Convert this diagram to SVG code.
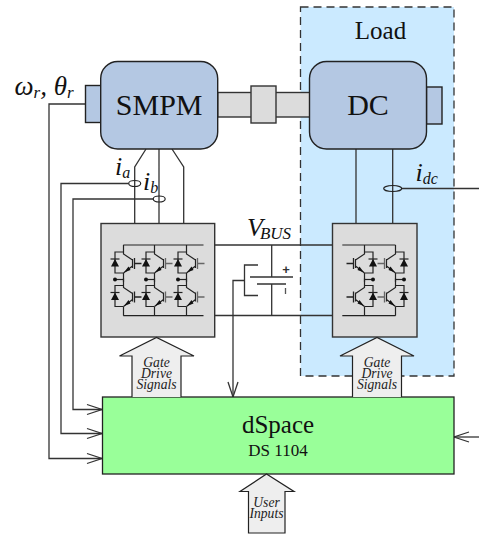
<svg xmlns="http://www.w3.org/2000/svg" xmlns:xlink="http://www.w3.org/1999/xlink" width="479" height="534" viewBox="0 0 479 534">
<style>
text{font-family:"Liberation Serif","Times New Roman",serif;fill:#111}
.i{font-style:italic}
.m{text-anchor:middle}
.sig{font-size:13.6px;font-style:italic;text-anchor:middle;fill:#222}
.w{fill:none;stroke:#333;stroke-width:1.3}
.a{fill:none;stroke:#333;stroke-width:1.3;marker-end:url(#open)}
.body{fill:#b4c8e3;stroke:#222;stroke-width:1.4}
.gray{fill:#dcdcdc;stroke:#333;stroke-width:1.4}
.big{fill:#eee;stroke:#222;stroke-width:1.2}
.s{fill:none;stroke:#222;stroke-width:1.2}
.f{fill:#111;stroke:none}
</style>
<defs>
<marker id="open" markerUnits="userSpaceOnUse" markerWidth="18" markerHeight="14" refX="15" refY="6" orient="auto" overflow="visible">
<path d="M0,1 L15,6 L0,11" fill="none" stroke="#333" stroke-width="1.3"/>
</marker>
<g id="cell">
<path class="s" d="M0,7 H-8.5 V28 H0"/>
<path class="f" d="M-8.5,14 L-12.5,21.5 H-4.5 Z"/>
<path class="s" d="M-13,14 H-4"/>
<path class="s" d="M0,0 V9 L9,15 M9,14 V23 M9,21 L0,28"/>
<path class="f" d="M0.5,27.5 L5,21.5 L7,25 Z"/>
<path d="M11,13 V24 M11,18.5 H18" fill="none" stroke="currentColor" stroke-width="1.3"/>
</g>
<g id="leg">
<use href="#cell" xlink:href="#cell"/>
<path class="s" d="M0,28 V37"/>
<use href="#cell" xlink:href="#cell" y="33.5"/>
<path class="s" d="M0,61.5 V70.7"/>
<path class="s" d="M-8.5,34.5 H0"/>
<circle class="f" cx="-8.5" cy="34.5" r="2"/>
</g>
</defs>

<g id="load">
<rect x="300.5" y="7" width="153.5" height="369" fill="#cbeaff" stroke="#333" stroke-width="1.3" stroke-dasharray="8 5"/>
<text class="m" x="380.5" y="39" font-size="25">Load</text>
</g>

<g id="shaft">
<rect class="gray" x="217.7" y="92.5" width="92" height="24.5"/>
<rect class="gray" x="251" y="86" width="25" height="37"/>
</g>

<g id="connectors">
<path class="w" d="M146,149 L134.7,167 V223.5 M159,149 V223.5 M172,149 L183.7,167 V223.5"/>
<path class="w" d="M356,149 V223.5 M392.7,149 V223.5"/>
<path class="a" d="M128.5,183.5 H61 V433.5 H102"/>
<path class="a" d="M153,199 H73 V409.5 H102"/>
<path class="a" d="M85.5,104 H49 V458.5 H102"/>
<path class="w" d="M402,188.5 H479"/>
<path class="a" d="M479,437 H454"/>
<path class="w" d="M214.7,245 H332.5 M214.7,315.5 H332.5"/>
<path class="w" d="M271.7,245 V277 M271.7,284 V315.5"/>
<path class="w" d="M250,277 H293 M257,284 H286"/>
<path class="w" d="M258,265 H244.5 V295.5 H258"/>
<path class="a" d="M244.5,280.5 H233 V397"/>
<ellipse cx="134.7" cy="183.5" rx="6" ry="3" fill="none" stroke="#222" stroke-width="1.2"/>
<ellipse cx="159.2" cy="199" rx="6" ry="3" fill="none" stroke="#222" stroke-width="1.2"/>
<ellipse cx="392.7" cy="188.5" rx="9" ry="3" fill="none" stroke="#222" stroke-width="1.2"/>
</g>

<g id="labels">
<text class="i" x="14.5" y="95" font-size="27">ω<tspan font-size="17" dy="3">r</tspan><tspan dy="-3">, θ</tspan><tspan font-size="17" dy="3">r</tspan></text>
<text class="i" x="115" y="175" font-size="26">i<tspan font-size="16" dy="3">a</tspan></text>
<text class="i" x="143" y="190" font-size="26">i<tspan font-size="16" dy="3">b</tspan></text>
<text class="i" x="415.5" y="181" font-size="26">i<tspan font-size="16" dy="3">dc</tspan></text>
<text class="i" x="247" y="236" font-size="26">V<tspan font-size="17" dy="3" dx="-3">BUS</tspan></text>
<text x="286" y="273.5" font-size="13" font-weight="bold" text-anchor="middle" style="font-family:'Liberation Sans',sans-serif;fill:#333">+</text>
<path d="M285.5,288 V294" stroke="#555" stroke-width="1.3" fill="none"/>
</g>

<g id="smpm">
<rect class="body" x="85.5" y="85.5" width="15.5" height="37" />
<rect class="body" x="100.7" y="61.5" width="117" height="87.5" rx="17"/>
<text class="m" x="159.2" y="115" font-size="30">SMPM</text>
</g>

<g id="dc">
<rect class="body" x="426.5" y="87" width="15.5" height="37"/>
<rect class="body" x="309.5" y="61.5" width="117" height="87.5" rx="17"/>
<text class="m" x="368" y="115" font-size="30">DC</text>
</g>

<g id="inverter1">
<rect class="gray" x="101" y="223.5" width="113.7" height="113.5"/>
<path class="s" d="M123.3,245 H203.5 M123.3,315.7 H203.5"/>
<use href="#leg" xlink:href="#leg" x="123.5" y="245" color="#222"/>
<use href="#leg" xlink:href="#leg" x="154.5" y="245" color="#666"/>
<use href="#leg" xlink:href="#leg" x="186.5" y="245" color="#666"/>
</g>

<g id="inverter2">
<rect class="gray" x="332.5" y="223.5" width="84.5" height="113.5"/>
<path class="s" d="M342.3,245 H395.5 M342.3,315.7 H395.5"/>
<use href="#leg" xlink:href="#leg" transform="translate(364.5,245) scale(-1,1)" color="#222"/>
<use href="#leg" xlink:href="#leg" transform="translate(395.5,245) scale(-1,1)" color="#666"/>
</g>

<g id="dspace">
<rect x="102.5" y="397" width="351.5" height="77" fill="#99ff99" stroke="#222" stroke-width="1.3"/>
<text class="m" x="278" y="433" font-size="25">dSpace</text>
<text class="m" x="278" y="456" font-size="17">DS 1104</text>
</g>

<g id="gate1">
<path class="big" d="M132,397 V356 H119.5 L156.5,337.5 L194,356 H181 V397"/>
<text class="sig" x="156.5" y="366.5">Gate</text>
<text class="sig" x="156.5" y="378">Drive</text>
<text class="sig" x="156.5" y="389">Signals</text>
</g>

<g id="gate2">
<path class="big" d="M352.5,397 V356 H340 L377,337.5 L414,356 H401.5 V397"/>
<text class="sig" x="377" y="366.5">Gate</text>
<text class="sig" x="377" y="378">Drive</text>
<text class="sig" x="377" y="389">Signals</text>
</g>

<g id="user">
<path class="big" d="M248.5,533 V491.5 H240 L266.5,474 L294,491.5 H285 V533 Z"/>
<text class="sig" x="266.5" y="506.5">User</text>
<text class="sig" x="266.5" y="518">Inputs</text>
</g>
</svg>
